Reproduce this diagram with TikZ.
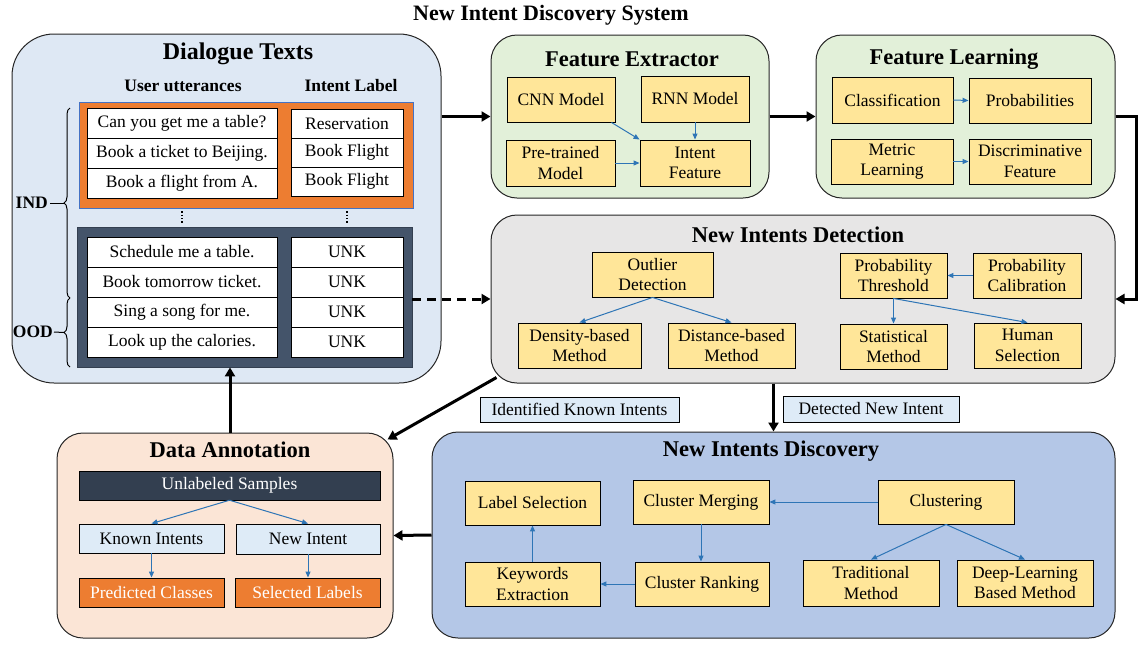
\documentclass[tikz,border=0pt]{standalone}
\usepackage{fontspec}
\setmainfont{Liberation Serif}
\usetikzlibrary{arrows.meta,calc,decorations.pathreplacing}
\definecolor{dlgfill}{HTML}{DEE8F4}
\definecolor{grnfill}{HTML}{E2F0D9}
\definecolor{grayfill}{HTML}{E7E6E6}
\definecolor{peach}{HTML}{FBE5D6}
\definecolor{discfill}{HTML}{B4C7E7}
\definecolor{yel}{HTML}{FFE699}
\definecolor{ora}{HTML}{ED7D31}
\definecolor{darkbox}{HTML}{44546A}
\definecolor{darker}{HTML}{333F50}
\definecolor{lblue}{HTML}{DEEBF7}
\definecolor{arrblue}{HTML}{2E75B6}
\definecolor{borderblue}{HTML}{4472C4}
\newcommand{\bodyfont}{\fontsize{17.5}{20.5}\selectfont}
\newcommand{\ttlfont}{\fontsize{22.5}{26}\selectfont\bfseries}
\tikzset{
  sz/.style 2 args={minimum width=#1pt, minimum height=#2pt},
  panel/.style={draw=black!85, line width=1pt, rounded corners=26pt, inner sep=0pt},
  ttl/.style={font=\ttlfont, inner sep=0pt},
  ybox/.style={draw=black, fill=yel, line width=0.9pt, inner sep=0pt, align=center, font=\bodyfont},
  cell/.style={draw=black, fill=white, line width=0.9pt, inner sep=0pt, align=center, font=\bodyfont},
  lbbox/.style={draw=black, fill=lblue, line width=0.9pt, inner sep=0pt, align=center, font=\bodyfont},
  obox/.style={draw=black, fill=ora, line width=0.9pt, inner sep=0pt, align=center, font=\bodyfont, text=white},
  bigarr/.style={line width=3pt, -{Triangle[length=9pt,width=10pt]}},
  barr/.style={draw=arrblue, line width=1pt, -{Triangle[length=6pt,width=5pt]}},
}
\begin{document}
\begin{tikzpicture}[x=1pt,y=-1pt]
\useasboundingbox (0,0) rectangle (1148,654);

% title
\node[font=\fontsize{22}{26}\selectfont\bfseries, inner sep=0pt] (systitle) at (551,15) {New Intent Discovery System};

% panels
\node[panel, fill=dlgfill, rounded corners=42pt, sz={429}{349}] (dlg) at (226.5,208.5) {};
\node[panel, fill=grnfill, sz={278}{163}] (fe) at (630,116.5) {};
\node[panel, fill=grnfill, sz={299}{163}] (fl) at (965.5,116.5) {};
\node[panel, fill=grayfill, sz={624}{168}] (nidet) at (803,299) {};
\node[panel, fill=peach, sz={336}{205}] (da) at (225,535.5) {};
\node[panel, fill=discfill, sz={683}{206}] (nidisc) at (773.5,535) {};

% panel titles
\node[ttl, font=\fontsize{24}{28}\selectfont\bfseries] (dlgt) at (238,54) {Dialogue Texts};
\node[ttl] (fet) at (632,59) {Feature Extractor};
\node[ttl] (flt) at (954,59) {Feature Learning};
\node[ttl] (nidett) at (798,235) {New Intents Detection};
\node[ttl] (dat) at (230,450) {Data Annotation};
\node[ttl] (nidisct) at (771,451) {New Intents Discovery};

% dialogue texts
\node[font=\bodyfont\bfseries, inner sep=0pt] (uu) at (183,86) {User utterances};
\node[font=\bodyfont\bfseries, inner sep=0pt] (il) at (351,86) {Intent Label};
\node[draw=borderblue, line width=0.8pt, fill=ora, sz={334}{106}, inner sep=0pt] (orb) at (246,155) {};
\node[cell, sz={190}{30}] (u1) at (182,123) {Can you get me a table?};
\node[cell, sz={190}{30}] (u2) at (182,153) {Book a ticket to Beijing.};
\node[cell, sz={190}{30}] (u3) at (182,183) {Book a flight from A.};
\node[cell, sz={112}{29}] (l1) at (347,123.5) {Reservation};
\node[cell, sz={112}{29}] (l2) at (347,152.5) {Book Flight};
\node[cell, sz={112}{29}] (l3) at (347,181.5) {Book Flight};

\node[draw=darker, line width=0.8pt, fill=darkbox, sz={335}{140}, inner sep=0pt] (dk) at (244.5,297) {};
\node[cell, sz={190}{30}] (o1) at (182,252) {Schedule me a table.};
\node[cell, sz={190}{30}] (o2) at (182,282) {Book tomorrow ticket.};
\node[cell, sz={190}{30}] (o3) at (182,312) {Sing a song for me.};
\node[cell, sz={190}{30}] (o4) at (182,342) {Look up the calories.};
\node[cell, sz={112}{30}] (k1) at (347,252) {UNK};
\node[cell, sz={112}{30}] (k2) at (347,282) {UNK};
\node[cell, sz={112}{30}] (k3) at (347,312) {UNK};
\node[cell, sz={112}{30}] (k4) at (347,342) {UNK};

\draw[dotted, line width=1.3pt] ($(orb.south -| u3.south)+(0,3)$) -- ($(dk.north -| u3.south)+(0,-3)$);
\draw[dotted, line width=1.3pt] ($(orb.south -| l3.south)+(0,3)$) -- ($(dk.north -| l3.south)+(0,-3)$);

% braces
\coordinate (bi1) at (70,298);
\coordinate (bi2) at (70,108);
\coordinate (bo1) at (70,367);
\coordinate (bo2) at (70,298);
\draw[decorate, decoration={brace, amplitude=6pt}, line width=1pt] (bi1) -- (bi2);
\draw[decorate, decoration={brace, amplitude=6pt}, line width=1pt] (bo1) -- (bo2);
\node[font=\bodyfont\bfseries, inner sep=0pt, anchor=east] (ind) at (48,203) {IND};
\node[font=\bodyfont\bfseries, inner sep=0pt, anchor=east] (ood) at (53,332) {OOD};
\coordinate (indtip) at (64,203);
\coordinate (oodtip) at (64,332.5);
\draw[line width=1pt] ($(ind.east)+(2,0)$) -- (indtip);
\draw[line width=1pt] ($(ood.east)+(1,0)$) -- (oodtip);

% feature extractor
\node[ybox, sz={108}{45}] (cnn) at (561,99.5) {CNN Model};
\node[ybox, sz={108}{46}] (rnn) at (695,99) {RNN Model};
\node[ybox, sz={109}{46}] (pre) at (560.5,163) {Pre-trained\\Model};
\node[ybox, sz={110}{46}] (intf) at (695,163) {Intent\\Feature};
\draw[barr] ($(cnn.south east)+(-4,0)$) -- (intf.north west);
\draw[barr] (rnn.south) -- (intf.north);
\draw[barr] (pre.east) -- (intf.west);

% feature learning
\node[ybox, sz={121}{46}] (cls) at (892.5,100) {Classification};
\node[ybox, sz={122}{45}] (prob) at (1030,100.5) {Probabilities};
\node[ybox, sz={122}{45}] (met) at (892,161.5) {Metric\\Learning};
\node[ybox, sz={122}{45}] (disc) at (1030,161.5) {Discriminative\\Feature};
\draw[barr] (cls.east) -- (prob.west);
\draw[barr] (met.east) -- (disc.west);

% new intents detection
\node[ybox, sz={121}{45}] (outl) at (652.5,274.5) {Outlier\\Detection};
\node[ybox, sz={123}{45}] (dens) at (579.5,345.5) {Density-based\\Method};
\node[ybox, sz={127}{45}] (dist) at (731.5,345.5) {Distance-based\\Method};
\node[ybox, sz={107}{45}] (pth) at (893.5,275.5) {Probability\\Threshold};
\node[ybox, sz={108}{45}] (pcal) at (1027,275.5) {Probability\\Calibration};
\node[ybox, sz={107}{45}] (stat) at (893.5,346.5) {Statistical\\Method};
\node[ybox, sz={107}{45}] (hum) at (1027.5,345.5) {Human\\Selection};
\draw[barr] (outl.south) -- (dens.north);
\draw[barr] (outl.south) -- (dist.north);
\draw[barr] (pcal.west) -- (pth.east);
\draw[barr] (pth.south) -- (stat.north);
\draw[barr] (pth.south) -- (hum.north);

% labels between
\node[lbbox, sz={199}{25}] (ikn) at (579.5,409.5) {Identified Known Intents};
\node[lbbox, sz={176}{26}] (dni) at (871,409) {Detected New Intent};

% new intents discovery
\node[ybox, sz={135}{44}] (lsel) at (532.5,503) {Label Selection};
\node[ybox, sz={136}{44}] (cmerge) at (701,502) {Cluster Merging};
\node[ybox, sz={136}{44}] (clust) at (946,502) {Clustering};
\node[ybox, sz={135}{44}] (kw) at (532.5,584) {Keywords\\Extraction};
\node[ybox, sz={134}{44}] (crank) at (702,584) {Cluster Ranking};
\node[ybox, sz={136}{46}] (trad) at (871,583) {Traditional\\Method};
\node[ybox, sz={136}{46}] (deep) at (1025,583) {Deep-Learning\\Based Method};
\draw[barr] (clust.west) -- (cmerge.east);
\draw[barr] (cmerge.south) -- (cmerge.south |- crank.north);
\draw[barr] (crank.west) -- (kw.east);
\draw[barr] (kw.north) -- (lsel.south);
\draw[barr] (clust.south) -- (trad.north);
\draw[barr] (clust.south) -- (deep.north);

% data annotation
\node[draw=black, fill=darker, inner sep=0pt, sz={301}{29}, font=\bodyfont, text=white] (unl) at (229.5,485.5) {Unlabeled Samples};
\node[lbbox, sz={145}{29}] (known) at (151.5,538.5) {Known Intents};
\node[lbbox, sz={144}{30}] (newi) at (308,539) {New Intent};
\node[obox, sz={145}{29}] (pred) at (151.5,592.5) {Predicted Classes};
\node[obox, sz={145}{29}] (sel) at (307.5,592.5) {Selected Labels};
\draw[barr] (unl.south) -- (known.north);
\draw[barr] (unl.south) -- (newi.north);
\draw[barr] (known.south) -- (pred.north);
\draw[barr] (newi.south) -- (newi.south |- sel.north);

% big arrows
\draw[bigarr] (dlg.east |- fe.west) -- (fe.west);
\draw[bigarr] (fe.east) -- (fl.west);
\draw[bigarr] (fl.east) -- ++(21,0) |- (nidet.east);
\draw[bigarr, dash pattern=on 9pt off 6pt] (dk.east |- nidet.west) -- (nidet.west);
\draw[bigarr] ($(nidet.south west)+(6,-6)$) -- ($(da.north east)+(-6,7)$);
\draw[bigarr] (nidet.south -| nidisc.north) -- (nidisc.north);
\draw[bigarr] (nidisc.west) -- (da.east);
\draw[bigarr] ($(da.north)+(5,0)$) -- ($(da.north |- dk.south)+(5,0)$);
\end{tikzpicture}
\end{document}
